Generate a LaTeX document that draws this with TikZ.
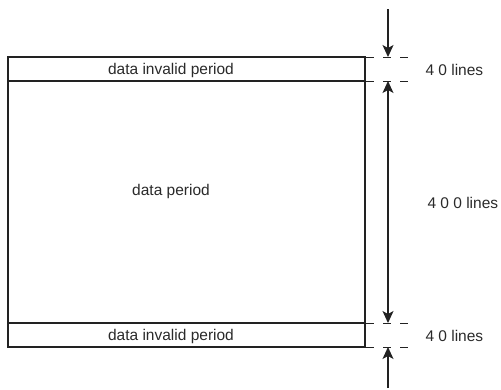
\documentclass[tikz,border=0pt]{standalone}
\usepackage{fontspec}
\setmainfont{Liberation Sans}
\usetikzlibrary{arrows.meta}
\definecolor{ink}{HTML}{222222}
\definecolor{txt}{HTML}{2a2a2a}
\begin{document}
\begin{tikzpicture}[x=1pt,y=-1pt,line width=1pt,
  boxline/.style={draw=ink,line width=1.1pt},
  lbl/.style={text=txt,font=\fontsize{15.5}{18}\selectfont,inner sep=0pt},
  dimline/.style={draw=ink,line width=1pt,dash pattern=on 8pt off 9pt},
  tip/.style={Stealth[length=12pt,width=11pt,inset=3pt,line width=0.5pt]},
  dimarrow/.style={draw=ink,line width=1.1pt,-{Stealth[length=12pt,width=11pt,inset=3pt]}},
  dimarrows/.style={draw=ink,line width=1.1pt,{Stealth[length=12pt,width=11pt,inset=3pt]}-{Stealth[length=12pt,width=11pt,inset=3pt]}}]
\useasboundingbox (0,0) rectangle (501,389);
% boxes
\draw[boxline] (8,57) rectangle (365,347);
\draw[boxline] (8,81) -- (365,81);
\draw[boxline] (8,323) -- (365,323);
% texts
\node[lbl] (t1) at (171,70) {data invalid period};
\node[lbl] (t2) at (171,191) {data period};
\node[lbl] (t3) at (171,336) {data invalid period};
\node[lbl,anchor=west] (l1) at (425,70) {4 0 lines};
\node[lbl,anchor=west] (l2) at (427,203) {4 0 0 lines};
\node[lbl,anchor=west] (l3) at (425,336) {4 0 lines};
% dimension coordinates
\coordinate (top) at (388,9);
\coordinate (a) at (388,57);
\coordinate (b) at (388,81);
\coordinate (c) at (388,323);
\coordinate (d) at (388,347);
\coordinate (bot) at (388,388);
% dashed extension lines
\foreach \y in {57,81,323,347}{
  \draw[dimline] (366,\y) -- (413,\y);
}
\draw[dimarrow] (top) -- (a);
\draw[dimarrows] (b) -- (c);
\draw[dimarrow] (bot) -- (d);
\end{tikzpicture}
\end{document}
